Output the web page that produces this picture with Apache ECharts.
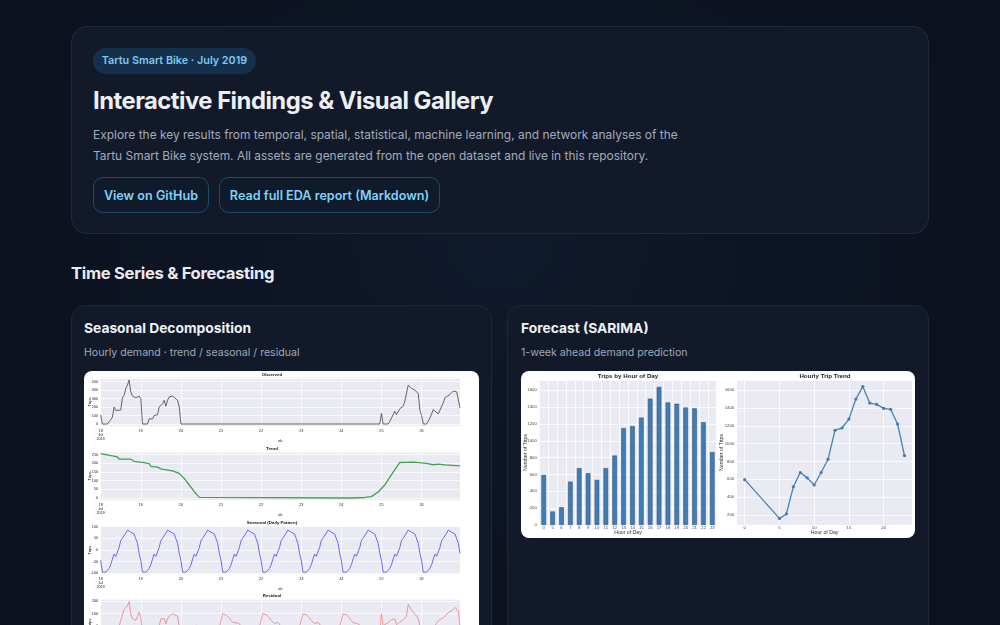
<!DOCTYPE html>
<html><head><meta charset="utf-8">
<script src="https://cdn.jsdelivr.net/npm/echarts@6/dist/echarts.min.js"></script>
<style>
html,body{margin:0;padding:0;width:1000px;height:625px;overflow:hidden;background:#0c1220;font-family:Inter,"Noto Sans",sans-serif;}
body{background:radial-gradient(ellipse at 50% 40%,#0f1a2c 0%,#0c1220 60%,#0b111e 100%);}
.abs{position:absolute;}
.card{position:absolute;background:#121a2a;border:1px solid #1d2738;box-sizing:border-box;}
#hero{left:71px;top:26px;width:858px;height:208px;border-radius:16px;border-color:#1d2a3c;}
#badge{left:93px;top:48px;width:163px;box-sizing:border-box;text-align:center;height:26px;line-height:26px;border-radius:13px;background:#14304a;color:#7cc8f2;font-size:10.8px;font-weight:600;white-space:nowrap;}
#h1{left:93px;top:84px;color:#eceff4;font-size:23.8px;font-weight:700;letter-spacing:-0.5px;white-space:nowrap;line-height:34px;}
#para{left:93px;top:124px;color:#a0abbb;font-size:11.95px;line-height:21px;white-space:nowrap;}
.btn{position:absolute;top:177px;height:36px;line-height:35px;box-sizing:border-box;border:1px solid #1f4b68;border-radius:10px;color:#7dd3fc;font-size:12.6px;font-weight:600;text-align:center;background:#0f1a2a;white-space:nowrap;}
#sec{left:71px;top:260px;color:#e8ebf0;font-size:16.6px;font-weight:700;letter-spacing:-0.3px;line-height:26px;white-space:nowrap;}
.panel{top:305px;height:360px;border-radius:14px;}
.ptitle{position:absolute;color:#eef1f5;font-size:13.8px;font-weight:700;white-space:nowrap;line-height:20px;}
.psub{position:absolute;color:#9ea9b9;font-size:10.6px;white-space:nowrap;line-height:18px;}
.imgbox{position:absolute;background:#ffffff;border-radius:8px;overflow:hidden;}
</style></head>
<body>
<div id="hero" class="card"></div>
<div id="badge" class="abs">Tartu Smart Bike · July 2019</div>
<div id="h1" class="abs">Interactive Findings &amp; Visual Gallery</div>
<div id="para" class="abs">Explore the key results from temporal, spatial, statistical, machine learning, and network analyses of the<br>Tartu Smart Bike system. All assets are generated from the open dataset and live in this repository.</div>
<div class="btn" style="left:93px;width:116px;">View on GitHub</div>
<div class="btn" style="left:219px;width:221px;">Read full EDA report (Markdown)</div>
<div id="sec" class="abs">Time Series &amp; Forecasting</div>

<div class="card panel" style="left:71px;width:421px;"></div>
<div class="card panel" style="left:507px;width:422px;"></div>
<div class="ptitle" style="left:84px;top:318px;">Seasonal Decomposition</div>
<div class="psub" style="left:84px;top:344px;">Hourly demand · trend / seasonal / residual</div>
<div class="ptitle" style="left:521px;top:318px;">Forecast (SARIMA)</div>
<div class="psub" style="left:521px;top:344px;">1-week ahead demand prediction</div>

<div class="imgbox" style="left:84px;top:371px;width:395px;height:300px;"><div id="decomp" style="width:395px;height:300px;"></div></div>
<div class="imgbox" style="left:521px;top:371px;width:394px;height:167px;"><div id="fc" style="width:394px;height:167px;"></div></div>

<script>
// ---------- Data: seasonal decomposition (x = hours since 18 Jul 2019 00:00) ----------
const dayLabels = ['18\nJul\n2019','19','20','21','22','23','24','25','26'];
const observed = [[0,106],[1,0],[4,0],[6,50],[7,80],[8,200],[9,160],[10,165],[12,165],[13,310],[14,340],[15,420],[16,460],[17,520],[18,380],[19,330],[21,310],[22,310],[23,330],[24,300],[25,0],[28,0],[29,60],[30,40],[31,60],[32,100],[34,110],[35,200],[37,240],[38,280],[39,210],[40,280],[41,320],[43,330],[44,320],[46,280],[47,200],[48,0],[167,0],[168,125],[169,0],[172,0],[173,30],[174,50],[176,150],[177,110],[179,180],[181,210],[182,270],[183,290],[184,460],[186,420],[188,400],[190,360],[191,160],[192,100],[193,0],[195,0],[197,70],[199,170],[200,160],[202,120],[203,120],[205,250],[206,310],[207,290],[209,350],[211,390],[212,400],[213,380],[215,190]];
const trend = [[0,256],[10,238],[11,224],[18,224],[20,212],[25,206],[29,198],[30,182],[34,178],[36,168],[37,160],[43,156],[47,142],[50,113],[53,75],[56,37],[59,4],[60,0],[150,0],[158,3],[162,8],[166,35],[170,75],[174,135],[179,205],[187,207],[195,200],[199,192],[202,196],[206,191],[215,186]];
const seasonalDaily = [-45,-96,-96,-96,-96,-80,-64,-40,-18,-28,-22,10,40,50,55,72,85,93,76,72,68,60,28,-15];
const nDays = 9;
const residual = [[0,-150],[3,-140],[6,-100],[9,-40],[11,0],[12,50],[14,135],[16,162],[17,197],[18,100],[19,62],[21,46],[22,60],[23,113],[24,73],[25,-40],[27,-130],[30,-90],[33,-60],[35,0],[36,60],[37,46],[38,62],[39,18],[40,60],[41,80],[43,100],[44,103],[46,80],[47,0],[48,-70],[51,-30],[54,-60],[56,-10],[57,10],[58,19],[59,0],[61,-40],[64,-80],[66,-92],[69,-65],[71,-10],
[72,0],[73,100],[74,98],[75,90],[76,80],[77,65],[78,48],[79,32],[80,22],[81,30],[82,33],[83,20],[84,0],[86,-50],[89,-90],[92,-68],[94,-20],[95,0],
[96,0],[97,100],[98,97],[99,92],[100,82],[101,68],[102,48],[103,34],[104,22],[105,30],[106,32],[107,18],[108,0],[110,-50],[113,-90],[116,-68],[118,-20],[119,0],
[120,2],[121,98],[122,100],[123,93],[124,80],[125,66],[126,47],[127,33],[128,22],[129,30],[130,33],[131,19],[132,0],[134,-50],[137,-92],[140,-68],[142,-20],[143,0],
[144,0],[145,98],[146,98],[147,92],[148,82],[149,66],[150,46],[151,30],[152,18],[153,25],[154,26],[155,12],[156,-10],[158,-55],[161,-100],[164,-85],[166,-60],[167,-30],
[168,100],[169,5],[170,0],[172,30],[174,54],[176,60],[177,14],[179,33],[181,54],[182,49],[183,81],[184,175],[186,130],[187,122],[189,81],[190,60],[191,0],[193,-150],[195,-120],[197,-80],[199,-40],
[200,0],[201,30],[203,54],[205,68],[206,54],[208,108],[210,122],[212,150],[213,157],[214,122],[215,0]];

// ---------- Data: forecast panel ----------
const hourCats = ['0','5','6','7','8','9','10','11','12','13','14','15','16','17','18','19','20','21','22','23'];
const hourNums = [0,5,6,7,8,9,10,11,12,13,14,15,16,17,18,19,20,21,22,23];
const tripsByHour = [595,160,210,515,675,615,535,675,825,1150,1175,1275,1500,1640,1455,1440,1395,1385,1220,865];

// build seasonal series from the repeating daily pattern
const seasonal = [];
for (let d = 0; d < nDays; d++) for (let h = 0; h < 24; h++) { const x = d*24+h; if (x <= 215) seasonal.push([x, seasonalDaily[h]]); }

const TXT = '#262626';
const BG = '#eaeaf2';
const plain = v => String(Math.round(v));
const panels = [
  {title:'Observed', data:observed, color:'#555555', w:0.9, top:6.8, min:-26, max:546},
  {title:'Trend', data:trend, color:'#3fa34d', w:1.3, top:80.8, min:-12.7, max:266.7},
  {title:'Seasonal (Daily Pattern)', data:seasonal, color:'#6a6af5', w:1.0, top:155.0, min:-105.5, max:102.5},
  {title:'Residual', data:residual, color:'#f08c8c', w:0.9, top:228.0, min:-167, max:217}
];
const H = 48.4;
const decomp = echarts.init(document.getElementById('decomp'), null, {renderer:'canvas'});
const grids=[], xs=[], ys=[], ss=[], ts=[];
panels.forEach((p,i)=>{
  grids.push({left:16.7, width:359.3, top:p.top, height:H, show:true, backgroundColor:BG, borderWidth:0, containLabel:false, outerBoundsMode:'none'});
  xs.push({type:'value', gridIndex:i, min:0, max:215, interval:24, name:'ds', nameLocation:'middle', nameGap:12.5, nameMoveOverlap:false,
    nameTextStyle:{fontSize:4.2,color:TXT},
    axisLine:{show:false}, axisTick:{show:false},
    axisLabel:{fontSize:3.8, color:TXT, margin:2.5, lineHeight:4.2, verticalAlign:'top', formatter:v=>dayLabels[Math.round(v/24)]||''},
    splitLine:{show:true, lineStyle:{color:'#ffffff', width:0.7}}});
  ys.push({type:'value', gridIndex:i, min:p.min, max:p.max, splitNumber:5, name:'Trips', nameLocation:'middle', nameGap:9, nameRotate:90, nameMoveOverlap:false,
    nameTextStyle:{fontSize:4.2,color:TXT},
    axisLine:{show:false}, axisTick:{show:false},
    axisLabel:{fontSize:3.8, color:TXT, margin:2.5, showMinLabel:false, showMaxLabel:false, formatter:plain},
    splitLine:{show:true, lineStyle:{color:'#ffffff', width:0.7}}});
  ss.push({type:'line', xAxisIndex:i, yAxisIndex:i, data:p.data, showSymbol:false, symbol:'none', lineStyle:{color:p.color, width:p.w}, silent:true, animation:false});
  ts.push({text:p.title, left:188, top:p.top-5.2, padding:0, textAlign:'center', textStyle:{fontSize:4.4, fontWeight:'bold', color:'#111'}});
});
decomp.setOption({animation:false, title:ts, grid:grids, xAxis:xs, yAxis:ys, series:ss});

const fc = echarts.init(document.getElementById('fc'), null, {renderer:'canvas'});
fc.setOption({
  animation:false,
  title:[
    {text:'Trips by Hour of Day', left:107, top:2, padding:0, textAlign:'center', textStyle:{fontSize:6.2, fontWeight:'bold', color:'#222'}},
    {text:'Hourly Trip Trend', left:304, top:2, padding:0, textAlign:'center', textStyle:{fontSize:6.2, fontWeight:'bold', color:'#222'}}
  ],
  grid:[
    {left:18.3, width:177.4, top:9, height:145, show:true, backgroundColor:BG, borderWidth:0, containLabel:false, outerBoundsMode:'none'},
    {left:215.7, width:175.8, top:9, height:145, show:true, backgroundColor:BG, borderWidth:0, containLabel:false, outerBoundsMode:'none'}
  ],
  xAxis:[
    {type:'category', gridIndex:0, data:hourCats, name:'Hour of Day', nameLocation:'middle', nameGap:5.5, nameMoveOverlap:false,
      nameTextStyle:{fontSize:5.2,color:'#333'}, axisLine:{show:false}, axisTick:{show:false},
      axisLabel:{fontSize:4.3,color:'#444',margin:1.2,interval:0},
      splitLine:{show:true, interval:0, lineStyle:{color:'#ffffff',width:0.8}}, boundaryGap:true},
    {type:'value', gridIndex:1, min:-1.15, max:24.15, splitNumber:5, name:'Hour of Day', nameLocation:'middle', nameGap:5.5, nameMoveOverlap:false,
      nameTextStyle:{fontSize:5.2,color:'#333'}, axisLine:{show:false}, axisTick:{show:false},
      axisLabel:{fontSize:4.3,color:'#444',margin:1.2,showMinLabel:false,showMaxLabel:false,formatter:plain},
      splitLine:{show:true, lineStyle:{color:'#ffffff',width:0.8}}}
  ],
  yAxis:[
    {type:'value', gridIndex:0, min:0, max:1722, interval:200, name:'Number of Trips', nameLocation:'middle', nameGap:11.5, nameRotate:90, nameMoveOverlap:false,
      nameTextStyle:{fontSize:5.2,color:'#333'}, axisLine:{show:false}, axisTick:{show:false},
      axisLabel:{fontSize:4.3,color:'#444',margin:2.5,showMaxLabel:false,formatter:plain},
      splitLine:{show:true, lineStyle:{color:'#ffffff',width:0.8}}},
    {type:'value', gridIndex:1, min:86, max:1714, splitNumber:8, name:'Number of Trips', nameLocation:'middle', nameGap:12.5, nameRotate:90, nameMoveOverlap:false,
      nameTextStyle:{fontSize:5.2,color:'#333'}, axisLine:{show:false}, axisTick:{show:false},
      axisLabel:{fontSize:4.3,color:'#444',margin:2.5,showMinLabel:false,showMaxLabel:false,formatter:plain},
      splitLine:{show:true, lineStyle:{color:'#ffffff',width:0.8}}}
  ],
  series:[
    {type:'bar', xAxisIndex:0, yAxisIndex:0, data:tripsByHour, barCategoryGap:'48%',
      itemStyle:{color:'#3f7db4', borderColor:'#29486a', borderWidth:0.5}},
    {type:'line', xAxisIndex:1, yAxisIndex:1, data:hourNums.map((h,i)=>[h,tripsByHour[i]]),
      symbol:'circle', symbolSize:3.2, itemStyle:{color:'#3f7db4'}, lineStyle:{color:'#4682b4', width:1.3}}
  ]
});
</script>
</body></html>
